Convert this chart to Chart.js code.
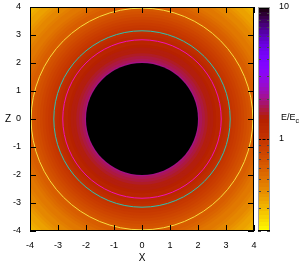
<!DOCTYPE html>
<html><head><meta charset="utf-8">
<script src="https://cdn.jsdelivr.net/npm/chart.js@4/dist/chart.umd.min.js"></script>
<style>html,body{margin:0;padding:0;background:#fff}canvas{display:block}</style>
</head><body>
<canvas id="c" width="304" height="268"></canvas>
<script>
// ---- data ----
const xTickValues = [-4, -3, -2, -1, 0, 1, 2, 3, 4];
const zTickValues = [-4, -3, -2, -1, 0, 1, 2, 3, 4];
const cbTickValues = [1, 10];
const cbMinorTickValues = [0.2, 0.3, 0.4, 0.5, 0.6, 0.7, 0.8, 0.9, 2, 3, 4, 5, 6, 7, 8, 9];
const cbMin = 0.2, cbMax = 10;
// radial profile of E/Ec (radius in X/Z units); inside the first radius the map is black
const profileRadius = [2.0, 2.1, 2.2, 2.3, 2.4, 2.5, 2.6, 2.7, 2.8, 2.9, 3.0, 3.1, 3.2, 3.3, 3.4, 3.5, 3.6, 3.7, 3.8, 3.9,
  4.0, 4.1, 4.2, 4.3, 4.4, 4.5, 4.6, 4.7, 4.8, 4.9, 5.0, 5.1, 5.2, 5.3, 5.4, 5.5, 5.6, 5.7];
const profileEc = [2.05, 1.8, 1.66, 1.57, 1.5, 1.44, 1.38, 1.31, 1.25, 1.18, 1.11, 1.04, 0.98, 0.93, 0.88, 0.83, 0.78, 0.74, 0.70, 0.66,
  0.63, 0.60, 0.57, 0.54, 0.51, 0.49, 0.47, 0.45, 0.43, 0.41, 0.39, 0.37, 0.355, 0.34, 0.325, 0.31, 0.295, 0.28];
const contourRadius = [2.83, 3.15, 3.96];

// ---- styles ----
const contourColors = ['#f012b8', '#2ec2b0', '#f8dc40'];
const FONT = "'Liberation Sans', Arial, sans-serif";

function palette(v) {
  const t = (Math.log10(v) - Math.log10(cbMin)) / (Math.log10(cbMax) - Math.log10(cbMin));
  let x = 1 - Math.min(1, Math.max(0, t));
  x = Math.round(x * 63) / 63;
  const r = Math.sqrt(x), g = x * x * x, b = Math.max(0, Math.sin(2 * Math.PI * x));
  return 'rgb(' + Math.round(r * 255) + ',' + Math.round(g * 255) + ',' + Math.round(b * 255) + ')';
}

const fieldPlugin = {
  id: 'field',
  beforeDatasetsDraw(chart) {
    const { ctx, chartArea: a, scales: { x, y } } = chart;
    ctx.save();
    ctx.beginPath();
    ctx.rect(a.left, a.top, a.right - a.left, a.bottom - a.top);
    ctx.clip();
    const cx = x.getPixelForValue(0), cy = y.getPixelForValue(0);
    const n = profileRadius.length;
    ctx.fillStyle = palette(profileEc[n - 1]);
    ctx.fillRect(a.left, a.top, a.right - a.left, a.bottom - a.top);
    for (let i = n - 1; i >= 0; i--) {
      const rr = i === n - 1 ? profileRadius[i] + 0.05 : (profileRadius[i] + profileRadius[i + 1]) / 2;
      const rx = x.getPixelForValue(rr) - cx, ry = cy - y.getPixelForValue(rr);
      ctx.beginPath();
      ctx.ellipse(cx, cy, rx, ry, 0, 0, Math.PI * 2);
      ctx.fillStyle = palette(profileEc[i]);
      ctx.fill();
    }
    const r0 = profileRadius[0];
    ctx.beginPath();
    ctx.ellipse(cx, cy, x.getPixelForValue(r0) - cx, cy - y.getPixelForValue(r0), 0, 0, Math.PI * 2);
    ctx.fillStyle = '#000';
    ctx.fill();
    ctx.lineWidth = 1;
    contourRadius.forEach((r, i) => {
      ctx.beginPath();
      ctx.ellipse(cx, cy, x.getPixelForValue(r) - cx, cy - y.getPixelForValue(r), 0, 0, Math.PI * 2);
      ctx.strokeStyle = contourColors[i];
      ctx.stroke();
    });
    ctx.restore();
  },
  afterDraw(chart) {
    const { ctx, chartArea: a, scales: { x, y, cb } } = chart;
    ctx.save();
    ctx.strokeStyle = '#000';
    ctx.lineWidth = 1;
    ctx.beginPath();
    xTickValues.forEach(v => {
      const px = Math.round(x.getPixelForValue(v)) + 0.5;
      ctx.moveTo(px, a.bottom); ctx.lineTo(px, a.bottom - 6);
      ctx.moveTo(px, a.top); ctx.lineTo(px, a.top + 6);
    });
    zTickValues.forEach(v => {
      const py = Math.round(y.getPixelForValue(v)) + 0.5;
      ctx.moveTo(a.left, py); ctx.lineTo(a.left + 6, py);
      ctx.moveTo(a.right, py); ctx.lineTo(a.right - 6, py);
    });
    ctx.stroke();
    ctx.strokeRect(Math.round(a.left) + 0.5, Math.round(a.top) + 0.5, Math.round(a.right - a.left) - 1, Math.round(a.bottom - a.top) - 1);

    // colour box
    const bx = cb.left + 4, bw = 12;
    for (let py = Math.round(cb.top); py < Math.round(cb.bottom); py++) {
      ctx.fillStyle = palette(cb.getValueForPixel(py + 0.5));
      ctx.fillRect(bx, py, bw, 1);
    }
    ctx.strokeStyle = '#444';
    ctx.beginPath();
    cbMinorTickValues.forEach(v => {
      const py = Math.round(cb.getPixelForValue(v)) + 0.5;
      ctx.moveTo(bx, py); ctx.lineTo(bx + 3, py);
      ctx.moveTo(bx + bw, py); ctx.lineTo(bx + bw - 3, py);
    });
    ctx.stroke();
    ctx.strokeStyle = '#000';
    ctx.setLineDash([3, 1.5]);
    ctx.beginPath();
    cbTickValues.forEach(v => {
      const py = Math.round(cb.getPixelForValue(v)) + 0.5;
      ctx.moveTo(bx, py); ctx.lineTo(bx + bw, py);
    });
    ctx.stroke();
    ctx.setLineDash([]);
    ctx.strokeStyle = '#9a9a9a';
    ctx.strokeRect(bx + 0.5, Math.round(cb.top) + 0.5, bw - 1, Math.round(cb.bottom - cb.top) - 1);
    ctx.strokeStyle = '#000';
    ctx.beginPath();
    ctx.moveTo(bx, Math.round(cb.bottom) - 0.5); ctx.lineTo(bx + bw, Math.round(cb.bottom) - 0.5);
    ctx.stroke();

    // labels
    ctx.fillStyle = '#000';
    ctx.textBaseline = 'middle';
    ctx.textAlign = 'center';
    ctx.font = '10px ' + FONT;
    ctx.fillText('Z', 8, y.getPixelForValue(0));
    ctx.textAlign = 'left';
    ctx.font = '9px ' + FONT;
    const lx = cb.left + 27, ly = 118;
    ctx.fillText('E/E', lx, ly);
    const w = ctx.measureText('E/E').width;
    ctx.font = '7px ' + FONT;
    ctx.fillText('c', lx + w, ly + 3);
    ctx.restore();
  }
};

const tickFont = { family: FONT, size: 9 };
new Chart(document.getElementById('c'), {
  type: 'scatter',
  data: { datasets: [{ data: [], pointRadius: 0 }] },
  options: {
    responsive: false, animation: false, devicePixelRatio: 1,
    layout: { padding: { top: 7, left: 0, right: 0, bottom: 0 } },
    plugins: { legend: { display: false }, tooltip: { enabled: false } },
    scales: {
      x: {
        type: 'linear', position: 'bottom', min: -4, max: 4,
        afterBuildTicks: s => { s.ticks = xTickValues.map(v => ({ value: v })); },
        ticks: { font: tickFont, color: '#000', padding: 9, maxRotation: 0, autoSkip: false },
        grid: { display: false, drawTicks: false }, border: { display: false },
        title: { display: true, text: 'X', font: { family: FONT, size: 10 }, color: '#000', padding: { top: 0, bottom: 4 } },
        afterFit: s => { s.height = 37; s.paddingLeft = 0; s.paddingRight = 0; }
      },
      y: {
        type: 'linear', position: 'left', min: -4, max: 4,
        afterBuildTicks: s => { s.ticks = zTickValues.map(v => ({ value: v })); },
        ticks: { font: tickFont, color: '#000', padding: 9, autoSkip: false },
        grid: { display: false, drawTicks: false }, border: { display: false },
        afterFit: s => { s.width = 30; s.paddingTop = 0; s.paddingBottom = 0; }
      },
      cb: {
        type: 'logarithmic', position: 'right', min: cbMin, max: cbMax,
        afterBuildTicks: s => { s.ticks = cbTickValues.map(v => ({ value: v })); },
        ticks: { font: tickFont, color: '#000', padding: 25, autoSkip: false, callback: v => String(v) },
        grid: { display: false, drawTicks: false }, border: { display: false },
        afterFit: s => { s.width = 50; s.paddingTop = 0; s.paddingBottom = 0; }
      }
    }
  },
  plugins: [fieldPlugin]
});
</script>
</body></html>
